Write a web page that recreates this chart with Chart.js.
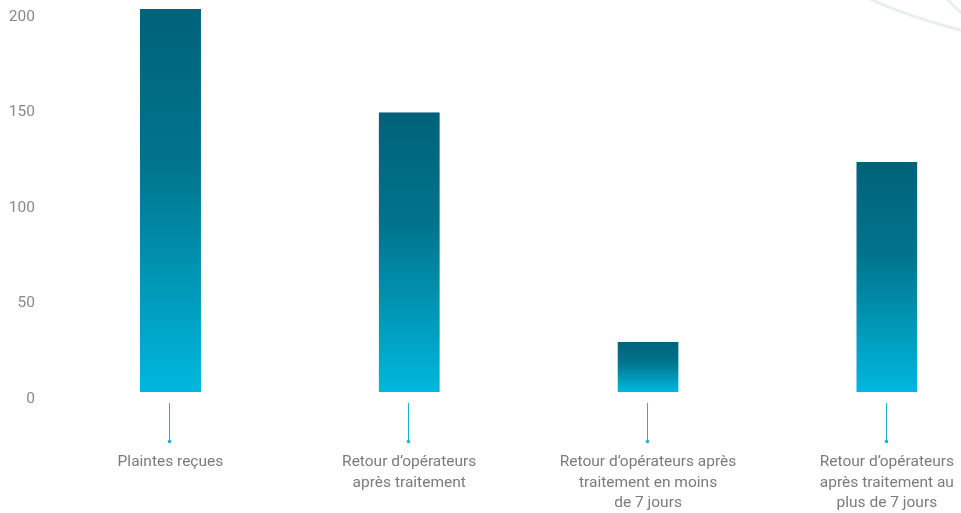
<!DOCTYPE html>
<html lang="fr">
<head>
<meta charset="utf-8">
<title>Plaintes et retours d’opérateurs</title>
<script src="https://cdn.jsdelivr.net/npm/chart.js@4/dist/chart.umd.min.js"></script>
<style>
  html, body { margin: 0; padding: 0; background: #ffffff; overflow: hidden; }
  #wrap { position: relative; width: 1007px; height: 513px; }
</style>
</head>
<body>
<div id="wrap"><canvas id="chart" width="1007" height="513"></canvas></div>
<script>
// Categories (multi-line labels) and values
const categories = [
  ["Plaintes reçues"],
  ["Retour d’opérateurs", "après traitement"],
  ["Retour d’opérateurs après", "traitement en moins", "de 7 jours"],
  ["Retour d’opérateurs", "après traitement au", "plus de 7 jours"]
];
const values = [204, 150, 30, 124];
const yTicks = [0, 50, 100, 150, 200];

const TOP_COLOR = "#00627a";
const MID_COLOR = "#00748c";
const BOTTOM_COLOR = "#00b7de";
const BAR_GAP = 7; // white strip between the bar foot and the zero line

// Vertical gradient fitted to each bar's own height
function barGradient(ctx) {
  const chart = ctx.chart;
  if (!chart.chartArea || !chart.scales.y) return TOP_COLOR;
  const y = chart.scales.y;
  const top = y.getPixelForValue(ctx.raw);
  const bottom = y.getPixelForValue(0) - BAR_GAP;
  const g = chart.ctx.createLinearGradient(0, top, 0, bottom);
  g.addColorStop(0, TOP_COLOR);
  g.addColorStop(0.4, MID_COLOR);
  g.addColorStop(1, BOTTOM_COLOR);
  return g;
}

// Faint decorative arcs in the upper-right corner
const cornerArcs = {
  id: "cornerArcs",
  beforeDraw(chart) {
    const c = chart.ctx;
    c.save();
    c.strokeStyle = "#e8eef1";
    c.lineWidth = 3;
    c.beginPath();
    c.arc(1100, -530, 577, Math.PI * 0.5, Math.PI * 0.75);
    c.stroke();
    c.beginPath();
    c.arc(1060, -100, 150, Math.PI * 0.5, Math.PI * 0.95);
    c.stroke();
    c.restore();
  }
};

// Thin leader line with a dot under every category
const leaders = {
  id: "leaders",
  afterDraw(chart) {
    const c = chart.ctx;
    const x = chart.scales.x;
    const base = chart.chartArea.bottom;
    c.save();
    c.strokeStyle = "#1ab3d6";
    c.fillStyle = "#1ab3d6";
    c.lineWidth = 1;
    x.ticks.forEach((t, i) => {
      const px = Math.round(x.getPixelForTick(i)) - 0.5;
      c.beginPath();
      c.moveTo(px, base + 4);
      c.lineTo(px, base + 42);
      c.stroke();
      c.beginPath();
      c.arc(px, base + 42.5, 1.8, 0, Math.PI * 2);
      c.fill();
    });
    c.restore();
  }
};

new Chart(document.getElementById("chart"), {
  type: "bar",
  data: {
    labels: categories,
    datasets: [{
      data: values,
      backgroundColor: barGradient,
      borderColor: "#ffffff",
      borderWidth: { top: 0, left: 0, right: 0, bottom: BAR_GAP },
      borderSkipped: false,
      barPercentage: 0.512,
      categoryPercentage: 0.5
    }]
  },
  options: {
    responsive: false,
    animation: false,
    layout: { padding: { top: 9, left: 0, right: 0, bottom: 0 } },
    plugins: { legend: { display: false }, tooltip: { enabled: false } },
    scales: {
      x: {
        grid: { display: false, drawTicks: false },
        border: { display: false },
        ticks: {
          color: "#7b7b7b",
          font: { family: "Roboto", size: 15.5, lineHeight: 1.323 },
          padding: 53,
          maxRotation: 0,
          autoSkip: false
        },
        afterFit(scale) { scale.height = 114; }
      },
      y: {
        min: 0,
        max: 204,
        grid: { display: false, drawTicks: false },
        border: { display: false },
        afterBuildTicks(scale) { scale.ticks = yTicks.map(v => ({ value: v })); },
        ticks: {
          color: "#888888",
          font: { family: "Roboto", size: 15.5 },
          padding: 16
        },
        afterFit(scale) {
          scale.width = 51;
          scale.paddingTop = 0;
          scale.paddingBottom = 0;
        }
      }
    }
  },
  plugins: [cornerArcs, leaders]
});
</script>
</body>
</html>
